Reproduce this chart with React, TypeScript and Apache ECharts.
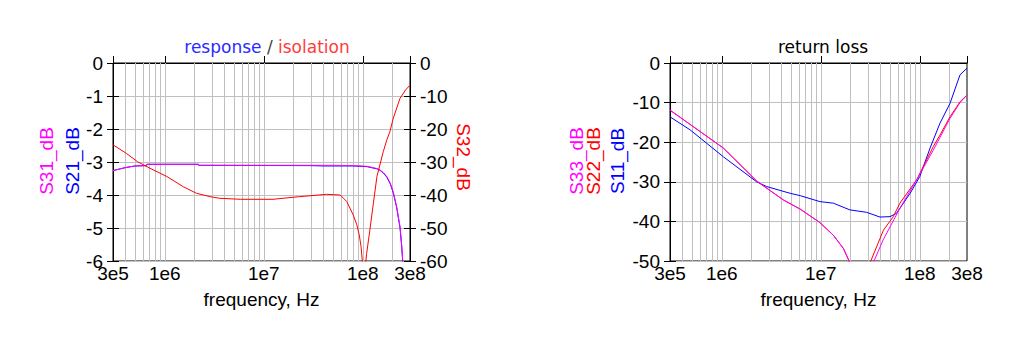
import React, { useEffect, useRef } from "react";
import * as echarts from "echarts";

// ---- axis ranges / grid lines ----
const X_MIN = 3e5;
const X_MAX = 3e8;
const GRID_FREQS = [
  4e5, 5e5, 6e5, 7e5, 8e5, 9e5,
  1e6, 2e6, 3e6, 4e6, 5e6, 6e6, 7e6, 8e6, 9e6,
  1e7, 2e7, 3e7, 4e7, 5e7, 6e7, 7e7, 8e7, 9e7,
  1e8, 2e8,
];

// ---- left chart: response / isolation ----
const S31_FREQ = [3e5, 4e5, 5e5, 6.5e5, 6.6e5, 2.19e6, 2.2e6, 5e7, 8e7, 1.1e8, 1.4e8, 1.49e8, 1.61e8, 1.75e8, 1.9e8, 2.03e8, 2.2e8, 2.3e8, 2.38e8, 2.47e8, 2.53e8, 2.58e8];
const S31_DB = [-3.26, -3.17, -3.12, -3.11, -3.07, -3.07, -3.1, -3.1, -3.11, -3.13, -3.2, -3.24, -3.32, -3.44, -3.65, -3.9, -4.35, -4.7, -4.96, -5.5, -5.97, -6.5];

const S21_FREQ = [3e5, 4e5, 5e5, 6.5e5, 6.6e5, 2.19e6, 2.2e6, 3e7, 4e7, 5e7, 8e7, 1.1e8, 1.4e8, 1.49e8, 1.61e8, 1.75e8, 1.9e8, 2.03e8, 2.2e8, 2.3e8, 2.38e8, 2.47e8, 2.53e8, 2.58e8];
const S21_DB = [-3.26, -3.17, -3.12, -3.11, -3.07, -3.07, -3.1, -3.11, -3.12, -3.12, -3.12, -3.14, -3.21, -3.25, -3.33, -3.46, -3.67, -3.93, -4.38, -4.73, -5.0, -5.55, -6.0, -6.5];

const S32_FREQ = [3e5, 4.1e5, 5.3e5, 7.1e5, 1.05e6, 1.54e6, 2.1e6, 2.86e6, 3.6e6, 5.8e6, 1.24e7, 2.3e7, 4.3e7, 5.9e7, 6.4e7, 6.9e7, 8e7, 8.7e7, 9.2e7, 9.6e7, 9.9e7, 1.02e8, 1.05e8, 1.07e8, 1.095e8, 1.18e8, 1.28e8, 1.39e8, 1.61e8, 1.75e8, 1.88e8, 2.03e8, 2.38e8, 2.7e8, 3e8];
const S32_DB = [-24.8, -27.4, -29.9, -31.9, -34.4, -37.5, -39.5, -40.5, -41.0, -41.3, -41.3, -40.5, -39.8, -40.0, -41.0, -42.0, -46.0, -49.0, -52.0, -55.5, -60.0, -72.0, -66.0, -60.5, -57.7, -50.6, -42.5, -34.4, -26.9, -23.3, -20.8, -16.8, -10.7, -8.2, -6.7];

// ---- right chart: return loss ----
const S11_FREQ = [3e5, 4.8e5, 1.04e6, 2.25e6, 2.84e6, 4.9e6, 6.2e6, 9.8e6, 1.34e7, 1.97e7, 2.9e7, 3.96e7, 5e7, 5.8e7, 8e7, 1e8, 1.27e8, 1.6e8, 2.02e8, 2.55e8, 3e8];
const S11_DB = [-13.6, -16.9, -23.7, -30.0, -31.2, -32.9, -33.5, -35.0, -35.4, -37.1, -37.7, -38.9, -38.8, -38.0, -32.9, -28.7, -21.5, -15.2, -10.2, -3.0, -1.3];

const S22_FREQ = [3e5, 1.04e6, 2.25e6, 4.2e6, 6.2e6, 9.8e6, 1.34e7, 1.69e7, 1.93e7, 2.05e7, 3.0e7, 3.2e7, 4.3e7, 5.4e7, 6.3e7, 9.3e7, 1.37e8, 1.6e8, 2.02e8, 2.55e8, 3e8];
const S22_DB = [-11.9, -21.5, -29.8, -34.6, -36.9, -40.3, -43.5, -46.8, -50.0, -54.0, -55.0, -50.0, -42.2, -38.8, -35.4, -29.5, -21.1, -18.2, -13.6, -9.8, -8.1];

const S33_FREQ = [3e5, 1.04e6, 2.25e6, 4.2e6, 6.2e6, 9.8e6, 1.34e7, 1.69e7, 1.94e7, 2.06e7, 3.3e7, 3.45e7, 4.3e7, 6.3e7, 9.3e7, 1.37e8, 1.6e8, 2.02e8, 2.55e8, 3e8];
const S33_DB = [-11.9, -21.5, -29.8, -34.6, -36.9, -40.3, -43.5, -46.8, -50.0, -54.0, -55.0, -50.0, -44.5, -36.7, -29.5, -22.0, -18.8, -14.0, -10.0, -8.1];

const LEFT_Y_MIN = -6;
const LEFT_Y_STEP = 1;
const RIGHT_Y_MIN = -60;
const RIGHT_Y_STEP = 10;
const RL_Y_MIN = -50;
const RL_Y_STEP = 10;

const BLUE = "#0000ff";
const MAGENTA = "#ff00ff";
const RED = "#ff0000";
const GRIDC = "#c0c0c0";
const FONT = "Liberation Sans";
const FS = 19;

const pairs = (f: number[], v: number[]) => f.map((x, i) => [x, v[i]]);

const fmtFreq = (v: number) => {
  const e = Math.floor(Math.log10(v) + 1e-6);
  const m = Math.round(v / Math.pow(10, e));
  return `${m}e${e}`;
};

const gridMarkLine = {
  z: 1,
  silent: true,
  symbol: ["none", "none"],
  label: { show: false },
  lineStyle: { color: GRIDC, type: "solid", width: 1 },
  emphasis: { disabled: true },
  data: GRID_FREQS.map((f) => ({ xAxis: f })),
};

const labelStyle = { color: "#000", fontSize: FS, fontFamily: FONT };

function xAxis(gridIndex: number) {
  return {
    type: "log",
    logBase: 10,
    gridIndex,
    min: X_MIN,
    max: X_MAX,
    axisLine: { show: true, lineStyle: { color: "#000", width: 1 } },
    axisTick: { show: true, inside: true, length: 7, lineStyle: { color: "#000" } },
    axisLabel: { ...labelStyle, margin: 3, formatter: fmtFreq, showMinLabel: true, showMaxLabel: true },
    splitLine: { show: false },
    name: "frequency, Hz",
    nameLocation: "middle",
    nameGap: 29,
    nameTextStyle: { color: "#000", fontSize: FS, fontFamily: FONT },
  };
}

function yAxis(gridIndex: number, position: string, min: number, step: number, inside: boolean, split: boolean) {
  return {
    type: "value",
    gridIndex,
    position,
    min,
    max: 0,
    interval: step,
    axisLine: { show: !inside, lineStyle: { color: "#000", width: 1 } },
    axisTick: { show: true, inside, length: 6, lineStyle: { color: "#000" } },
    axisLabel: { show: !inside, ...labelStyle, margin: 10 },
    splitLine: { show: split, lineStyle: { color: GRIDC, width: 1 } },
  };
}

function lineSeries(name: string, color: string, data: number[][], xi: number, yi: number, extra: any = {}) {
  return {
    name,
    type: "line",
    xAxisIndex: xi,
    yAxisIndex: yi,
    data,
    showSymbol: false,
    symbol: "none",
    clip: true,
    z: 3,
    lineStyle: { color, width: 1 },
    itemStyle: { color },
    emphasis: { disabled: true },
    ...extra,
  };
}

function vText(text: string, x: number, y: number, color: string, rotation: number) {
  return {
    type: "text",
    x,
    y,
    rotation,
    silent: true,
    style: {
      text,
      fill: color,
      fontSize: FS,
      fontFamily: FONT,
      align: "center",
      verticalAlign: "middle",
      textAlign: "center",
      textVerticalAlign: "middle",
    },
  };
}

export default function App() {
  const ref = useRef<HTMLDivElement>(null);

  useEffect(() => {
    document.body.style.margin = "0";
    const chart = echarts.init(ref.current!, null, { renderer: "svg" });
    const option: any = {
      animation: false,
      backgroundColor: "#fff",
      title: [
        {
          text: "{b|response} {g|/} {r|isolation}",
          left: 262,
          top: 33,
          textAlign: "center",
          textStyle: {
            fontFamily: "DejaVu Sans",
            fontSize: 17,
            fontWeight: "normal",
            rich: {
              b: { color: "#2a2aff", fontSize: 17, fontFamily: "DejaVu Sans" },
              g: { color: "#444", fontSize: 17, fontFamily: "DejaVu Sans" },
              r: { color: "#ff3c3c", fontSize: 17, fontFamily: "DejaVu Sans" },
            },
          },
        },
        {
          text: "return loss",
          left: 818,
          top: 33,
          textAlign: "center",
          textStyle: { color: "#000", fontFamily: "DejaVu Sans", fontSize: 17, fontWeight: "normal" },
        },
      ],
      grid: [
        { left: 113, top: 63, width: 297, height: 198, show: true, borderColor: "#000", borderWidth: 1, backgroundColor: "transparent", containLabel: false },
        { left: 670, top: 63, width: 297, height: 198, show: true, borderColor: "#000", borderWidth: 1, backgroundColor: "transparent", containLabel: false },
      ],
      xAxis: [xAxis(0), xAxis(1)],
      yAxis: [
        yAxis(0, "left", LEFT_Y_MIN, LEFT_Y_STEP, false, true),
        yAxis(0, "right", RIGHT_Y_MIN, RIGHT_Y_STEP, false, false),
        yAxis(0, "left", LEFT_Y_MIN, LEFT_Y_STEP, true, false),
        yAxis(0, "right", RIGHT_Y_MIN, RIGHT_Y_STEP, true, false),
        yAxis(1, "left", RL_Y_MIN, RL_Y_STEP, false, true),
        yAxis(1, "left", RL_Y_MIN, RL_Y_STEP, true, false),
      ],
      series: [
        lineSeries("S21_dB", BLUE, pairs(S21_FREQ, S21_DB), 0, 0, { markLine: gridMarkLine }),
        lineSeries("S31_dB", MAGENTA, pairs(S31_FREQ, S31_DB), 0, 0),
        lineSeries("S32_dB", RED, pairs(S32_FREQ, S32_DB), 0, 1),
        lineSeries("S11_dB", BLUE, pairs(S11_FREQ, S11_DB), 1, 4, { markLine: gridMarkLine }),
        lineSeries("S22_dB", RED, pairs(S22_FREQ, S22_DB), 1, 4),
        lineSeries("S33_dB", MAGENTA, pairs(S33_FREQ, S33_DB), 1, 4),
      ],
      graphic: [
        vText("S31_dB", 46, 161, MAGENTA, Math.PI / 2),
        vText("S21_dB", 72, 161, BLUE, Math.PI / 2),
        vText("S32_dB", 463, 157, RED, -Math.PI / 2),
        vText("S33_dB", 576, 161, MAGENTA, Math.PI / 2),
        vText("S22_dB", 593, 161, RED, Math.PI / 2),
        vText("S11_dB", 617, 161, BLUE, Math.PI / 2),
      ],
    };
    chart.setOption(option);
    return () => chart.dispose();
  }, []);

  return <div ref={ref} style={{ width: 1024, height: 352 }} />;
}
